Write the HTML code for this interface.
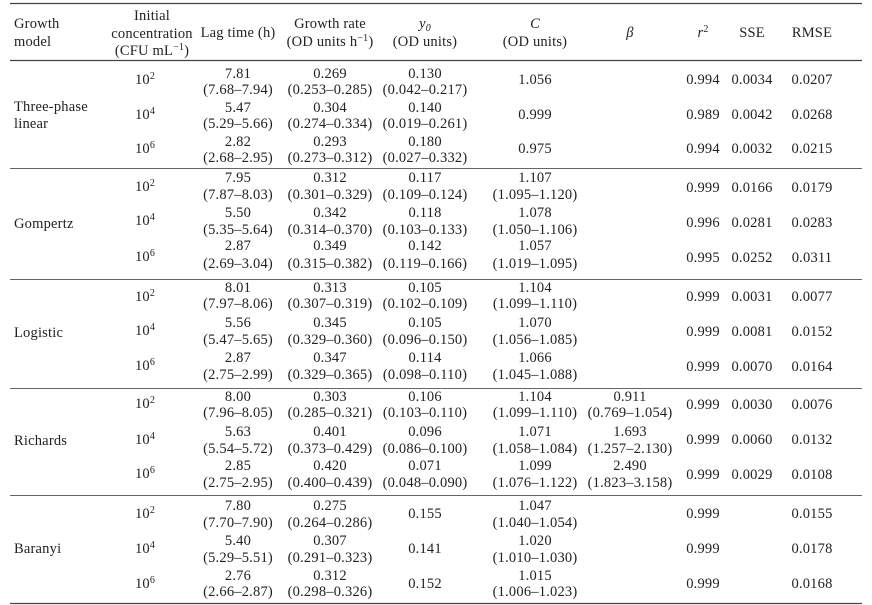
<!DOCTYPE html><html><head><meta charset="utf-8"><style>body{margin:0;background:#fff}svg{display:block}text{font-family:"Liberation Serif",serif;font-size:14.5px;fill:#222;letter-spacing:0.2px}.s{font-size:10px}</style></head><body>
<svg width="872" height="605" viewBox="0 0 872 605">
<g stroke="#444" stroke-width="1.2">
<line x1="10" y1="3.5" x2="862" y2="3.5"/><line x1="10" y1="60.5" x2="862" y2="60.5"/>
<line x1="10" y1="168.5" x2="862" y2="168.5" stroke="#666" stroke-width="0.9"/><line x1="10" y1="279.5" x2="862" y2="279.5" stroke="#666" stroke-width="0.9"/>
<line x1="10" y1="388.5" x2="862" y2="388.5" stroke="#666" stroke-width="0.9"/><line x1="10" y1="495.5" x2="862" y2="495.5" stroke="#666" stroke-width="0.9"/>
<line x1="10" y1="603.5" x2="862" y2="603.5"/></g>
<text x="14" y="28">Growth</text><text x="14" y="46">model</text>
<g text-anchor="middle">
<text x="152" y="20">Initial</text><text x="152" y="38">concentration</text><text x="152" y="55">(CFU mL<tspan dy="-5" class="s">−1</tspan><tspan dy="5">)</tspan></text>
<text x="238" y="37">Lag time (h)</text>
<text x="330" y="28">Growth rate</text><text x="330" y="46">(OD units h<tspan dy="-5" class="s">−1</tspan><tspan dy="5">)</tspan></text>
<text x="425" y="28" font-style="italic">y<tspan dy="3" class="s">0</tspan></text><text x="425" y="46">(OD units)</text>
<text x="535" y="28" font-style="italic">C</text><text x="535" y="46">(OD units)</text>
<text x="630" y="37" font-style="italic">β</text>
<text x="703" y="37" font-style="italic">r<tspan dy="-5" class="s" font-style="normal">2</tspan></text>
<text x="752" y="37">SSE</text><text x="812" y="37">RMSE</text>
</g>
<text x="14" y="111">Three-phase</text><text x="14" y="128">linear</text>
<text x="14" y="228">Gompertz</text><text x="14" y="337">Logistic</text><text x="14" y="445">Richards</text><text x="14" y="553">Baranyi</text>
<g text-anchor="middle">
<text x="145" y="84">10<tspan dy="-5" class="s">2</tspan></text><text x="145" y="119">10<tspan dy="-5" class="s">4</tspan></text><text x="145" y="153">10<tspan dy="-5" class="s">6</tspan></text>
<text x="238" y="78">7.81</text><text x="238" y="94">(7.68–7.94)</text>
<text x="238" y="112">5.47</text><text x="238" y="128">(5.29–5.66)</text>
<text x="238" y="146">2.82</text><text x="238" y="162">(2.68–2.95)</text>
<text x="330" y="78">0.269</text><text x="330" y="94">(0.253–0.285)</text>
<text x="330" y="112">0.304</text><text x="330" y="128">(0.274–0.334)</text>
<text x="330" y="146">0.293</text><text x="330" y="162">(0.273–0.312)</text>
<text x="425" y="78">0.130</text><text x="425" y="94">(0.042–0.217)</text>
<text x="425" y="112">0.140</text><text x="425" y="128">(0.019–0.261)</text>
<text x="425" y="146">0.180</text><text x="425" y="162">(0.027–0.332)</text>
<text x="535" y="84">1.056</text><text x="535" y="119">0.999</text><text x="535" y="153">0.975</text>
<text x="703" y="84">0.994</text><text x="752" y="84">0.0034</text><text x="812" y="84">0.0207</text>
<text x="703" y="119">0.989</text><text x="752" y="119">0.0042</text><text x="812" y="119">0.0268</text>
<text x="703" y="153">0.994</text><text x="752" y="153">0.0032</text><text x="812" y="153">0.0215</text>
<text x="145" y="191">10<tspan dy="-5" class="s">2</tspan></text><text x="145" y="225">10<tspan dy="-5" class="s">4</tspan></text><text x="145" y="261">10<tspan dy="-5" class="s">6</tspan></text>
<text x="238" y="182">7.95</text><text x="238" y="199">(7.87–8.03)</text>
<text x="238" y="217">5.50</text><text x="238" y="234">(5.35–5.64)</text>
<text x="238" y="250">2.87</text><text x="238" y="268">(2.69–3.04)</text>
<text x="330" y="182">0.312</text><text x="330" y="199">(0.301–0.329)</text>
<text x="330" y="217">0.342</text><text x="330" y="234">(0.314–0.370)</text>
<text x="330" y="250">0.349</text><text x="330" y="268">(0.315–0.382)</text>
<text x="425" y="182">0.117</text><text x="425" y="199">(0.109–0.124)</text>
<text x="425" y="217">0.118</text><text x="425" y="234">(0.103–0.133)</text>
<text x="425" y="250">0.142</text><text x="425" y="268">(0.119–0.166)</text>
<text x="535" y="182">1.107</text><text x="535" y="199">(1.095–1.120)</text>
<text x="535" y="217">1.078</text><text x="535" y="234">(1.050–1.106)</text>
<text x="535" y="250">1.057</text><text x="535" y="268">(1.019–1.095)</text>
<text x="703" y="192">0.999</text><text x="752" y="192">0.0166</text><text x="812" y="192">0.0179</text>
<text x="703" y="227">0.996</text><text x="752" y="227">0.0281</text><text x="812" y="227">0.0283</text>
<text x="703" y="262">0.995</text><text x="752" y="262">0.0252</text><text x="812" y="262">0.0311</text>
<text x="145" y="301">10<tspan dy="-5" class="s">2</tspan></text><text x="145" y="335">10<tspan dy="-5" class="s">4</tspan></text><text x="145" y="370">10<tspan dy="-5" class="s">6</tspan></text>
<text x="238" y="292">8.01</text><text x="238" y="308">(7.97–8.06)</text>
<text x="238" y="327">5.56</text><text x="238" y="344">(5.47–5.65)</text>
<text x="238" y="362">2.87</text><text x="238" y="379">(2.75–2.99)</text>
<text x="330" y="292">0.313</text><text x="330" y="308">(0.307–0.319)</text>
<text x="330" y="327">0.345</text><text x="330" y="344">(0.329–0.360)</text>
<text x="330" y="362">0.347</text><text x="330" y="379">(0.329–0.365)</text>
<text x="425" y="292">0.105</text><text x="425" y="308">(0.102–0.109)</text>
<text x="425" y="327">0.105</text><text x="425" y="344">(0.096–0.150)</text>
<text x="425" y="362">0.114</text><text x="425" y="379">(0.098–0.110)</text>
<text x="535" y="292">1.104</text><text x="535" y="308">(1.099–1.110)</text>
<text x="535" y="327">1.070</text><text x="535" y="344">(1.056–1.085)</text>
<text x="535" y="362">1.066</text><text x="535" y="379">(1.045–1.088)</text>
<text x="703" y="301">0.999</text><text x="752" y="301">0.0031</text><text x="812" y="301">0.0077</text>
<text x="703" y="336">0.999</text><text x="752" y="336">0.0081</text><text x="812" y="336">0.0152</text>
<text x="703" y="371">0.999</text><text x="752" y="371">0.0070</text><text x="812" y="371">0.0164</text>
<text x="145" y="408">10<tspan dy="-5" class="s">2</tspan></text><text x="145" y="444">10<tspan dy="-5" class="s">4</tspan></text><text x="145" y="478">10<tspan dy="-5" class="s">6</tspan></text>
<text x="238" y="401">8.00</text><text x="238" y="417">(7.96–8.05)</text>
<text x="238" y="436">5.63</text><text x="238" y="453">(5.54–5.72)</text>
<text x="238" y="470">2.85</text><text x="238" y="487">(2.75–2.95)</text>
<text x="330" y="401">0.303</text><text x="330" y="417">(0.285–0.321)</text>
<text x="330" y="436">0.401</text><text x="330" y="453">(0.373–0.429)</text>
<text x="330" y="470">0.420</text><text x="330" y="487">(0.400–0.439)</text>
<text x="425" y="401">0.106</text><text x="425" y="417">(0.103–0.110)</text>
<text x="425" y="436">0.096</text><text x="425" y="453">(0.086–0.100)</text>
<text x="425" y="470">0.071</text><text x="425" y="487">(0.048–0.090)</text>
<text x="535" y="401">1.104</text><text x="535" y="417">(1.099–1.110)</text>
<text x="535" y="436">1.071</text><text x="535" y="453">(1.058–1.084)</text>
<text x="535" y="470">1.099</text><text x="535" y="487">(1.076–1.122)</text>
<text x="630" y="401">0.911</text><text x="630" y="417">(0.769–1.054)</text>
<text x="630" y="436">1.693</text><text x="630" y="453">(1.257–2.130)</text>
<text x="630" y="470">2.490</text><text x="630" y="487">(1.823–3.158)</text>
<text x="703" y="409">0.999</text><text x="752" y="409">0.0030</text><text x="812" y="409">0.0076</text>
<text x="703" y="444">0.999</text><text x="752" y="444">0.0060</text><text x="812" y="444">0.0132</text>
<text x="703" y="479">0.999</text><text x="752" y="479">0.0029</text><text x="812" y="479">0.0108</text>
<text x="145" y="518">10<tspan dy="-5" class="s">2</tspan></text><text x="145" y="553">10<tspan dy="-5" class="s">4</tspan></text><text x="145" y="588">10<tspan dy="-5" class="s">6</tspan></text>
<text x="238" y="510">7.80</text><text x="238" y="527">(7.70–7.90)</text>
<text x="238" y="545">5.40</text><text x="238" y="562">(5.29–5.51)</text>
<text x="238" y="580">2.76</text><text x="238" y="596">(2.66–2.87)</text>
<text x="330" y="510">0.275</text><text x="330" y="527">(0.264–0.286)</text>
<text x="330" y="545">0.307</text><text x="330" y="562">(0.291–0.323)</text>
<text x="330" y="580">0.312</text><text x="330" y="596">(0.298–0.326)</text>
<text x="425" y="518">0.155</text><text x="425" y="553">0.141</text><text x="425" y="588">0.152</text>
<text x="535" y="510">1.047</text><text x="535" y="527">(1.040–1.054)</text>
<text x="535" y="545">1.020</text><text x="535" y="562">(1.010–1.030)</text>
<text x="535" y="580">1.015</text><text x="535" y="596">(1.006–1.023)</text>
<text x="703" y="518">0.999</text><text x="812" y="518">0.0155</text>
<text x="703" y="553">0.999</text><text x="812" y="553">0.0178</text>
<text x="703" y="588">0.999</text><text x="812" y="588">0.0168</text>
</g>
</svg></body></html>
